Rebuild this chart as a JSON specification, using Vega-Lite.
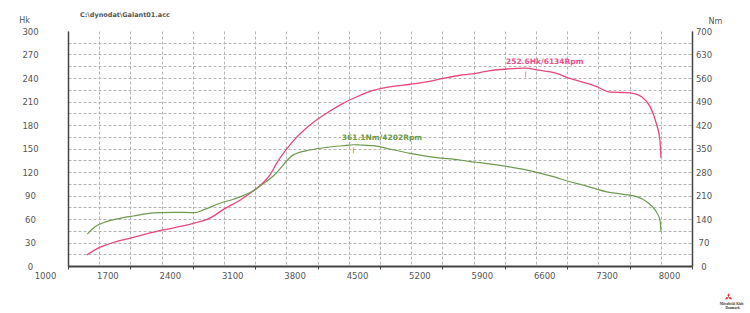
{
  "$schema": "https://vega.github.io/schema/vega-lite/v6.json",
  "width": 624,
  "height": 235,
  "autosize": {"type": "none"},
  "padding": {"left": 68, "top": 31, "right": 58, "bottom": 47},
  "background": "white",
  "title": {"text": "C:\\dynodat\\Galant01.acc", "anchor": "start", "frame": "group", "dx": 12, "dy": 8, "offset": 0, "baseline": "bottom", "fontSize": 6.5, "font": "DejaVu Sans", "fontWeight": "bold", "color": "#555"},
  "config": {"view": {"stroke": null}},
  "datasets": {
    "power": [{"rpm":1210,"hk":14},{"rpm":1360,"hk":24},{"rpm":1510,"hk":30},{"rpm":1700,"hk":35.5},{"rpm":1880,"hk":41},{"rpm":2070,"hk":46},{"rpm":2260,"hk":50.5},{"rpm":2410,"hk":54.5},{"rpm":2560,"hk":59.5},{"rpm":2650,"hk":65},{"rpm":2740,"hk":72},{"rpm":2930,"hk":84},{"rpm":3080,"hk":96},{"rpm":3160,"hk":103},{"rpm":3270,"hk":117},{"rpm":3340,"hk":131},{"rpm":3530,"hk":160},{"rpm":3715,"hk":180},{"rpm":3900,"hk":195},{"rpm":4090,"hk":208},{"rpm":4280,"hk":218},{"rpm":4390,"hk":223},{"rpm":4575,"hk":228},{"rpm":4840,"hk":232},{"rpm":5025,"hk":235},{"rpm":5210,"hk":239.5},{"rpm":5400,"hk":243.5},{"rpm":5510,"hk":245},{"rpm":5620,"hk":247},{"rpm":5735,"hk":249.4},{"rpm":5920,"hk":251.5},{"rpm":6134,"hk":252.6},{"rpm":6260,"hk":250.5},{"rpm":6480,"hk":246},{"rpm":6630,"hk":239.5},{"rpm":6780,"hk":234.5},{"rpm":6930,"hk":229},{"rpm":7080,"hk":222},{"rpm":7230,"hk":221.5},{"rpm":7340,"hk":220.5},{"rpm":7435,"hk":216},{"rpm":7530,"hk":203.5},{"rpm":7605,"hk":180},{"rpm":7640,"hk":161},{"rpm":7652,"hk":138}],
    "torque": [{"rpm":1217,"nm":95},{"rpm":1303,"nm":117},{"rpm":1434,"nm":132},{"rpm":1583,"nm":142},{"rpm":1733,"nm":149},{"rpm":1957,"nm":158},{"rpm":2181,"nm":160},{"rpm":2424,"nm":159},{"rpm":2518,"nm":167},{"rpm":2705,"nm":187},{"rpm":2855,"nm":199},{"rpm":3079,"nm":224},{"rpm":3154,"nm":238},{"rpm":3303,"nm":268},{"rpm":3528,"nm":331},{"rpm":3715,"nm":345.5},{"rpm":3902,"nm":353.5},{"rpm":4163,"nm":360},{"rpm":4202,"nm":361.1},{"rpm":4276,"nm":360.5},{"rpm":4444,"nm":358},{"rpm":4575,"nm":350.5},{"rpm":4837,"nm":335.6},{"rpm":5136,"nm":322.6},{"rpm":5398,"nm":315.8},{"rpm":5510,"nm":310.8},{"rpm":5622,"nm":307.8},{"rpm":5884,"nm":298},{"rpm":6258,"nm":279},{"rpm":6445,"nm":266},{"rpm":6632,"nm":251},{"rpm":6819,"nm":238},{"rpm":7043,"nm":221},{"rpm":7230,"nm":213.5},{"rpm":7380,"nm":206.5},{"rpm":7492,"nm":191.5},{"rpm":7585,"nm":167},{"rpm":7641,"nm":137},{"rpm":7652,"nm":102}],
    "peakP": [{"rpm":6134,"hk":252.6,"label":"252.6Hk/6134Rpm"}],
    "peakT": [{"rpm":4202,"nm":361.1,"label":"361.1Nm/4202Rpm"}],
    "logo": [{"rpm":8410,"hk":-40}],
    "logoText": [{"rpm":8445,"hk":-49,"text":"Mitsubishi Klub"},{"rpm":8455,"hk":-53,"text":"Danmark"}]
  },
  "encoding": {
    "x": {
      "field": "rpm", "type": "quantitative",
      "scale": {"domain": [1000, 8000], "nice": false, "zero": false},
      "axis": {
        "values": [1000,1350,1700,2050,2400,2750,3100,3450,3800,4150,4500,4850,5200,5550,5900,6250,6600,6950,7300,7650,8000],
        "format": "d",
        "labelExpr": "(datum.value - 1000) % 700 === 0 ? datum.label : ''",
        "grid": true, "gridColor": "#b4b4b4", "gridDash": [3, 2], "gridWidth": 1,
        "domainColor": "#444444", "domainWidth": 2,
        "tickSize": 3, "tickColor": "#444444",
        "tickOpacity": {"condition": {"test": "(datum.value - 1000) % 700 === 0", "value": 1}, "value": 0},
        "labelOffset": -23, "labelPadding": 2,
        "labelFont": "DejaVu Sans", "labelFontSize": 8.5, "labelColor": "#555555",
        "labelFlush": false, "labelOverlap": false,
        "title": null
      }
    }
  },
  "layer": [
    {
      "encoding": {
        "y": {
          "field": "hk", "type": "quantitative",
          "scale": {"domain": [0, 300], "nice": false, "zero": false},
          "axis": {
            "orient": "left",
            "values": [0,15,30,45,60,75,90,105,120,135,150,165,180,195,210,225,240,255,270,285,300],
            "labelExpr": "datum.value % 30 === 0 ? datum.label : ''",
            "grid": true, "gridColor": "#b4b4b4", "gridDash": [3, 2], "gridWidth": 1,
            "gridOpacity": {"condition": {"test": "datum.value > 0 && datum.value < 300", "value": 1}, "value": 0},
            "ticks": false, "tickSize": 0,
            "labelPadding": 38, "labelAlign": "center",
            "labelFont": "DejaVu Sans", "labelFontSize": 8.5, "labelColor": "#555555",
            "labelFlush": false, "labelOverlap": false,
            "domainColor": "#444444", "domainWidth": 1.5,
            "title": "Hk", "titleAngle": 0, "titleX": -44, "titleY": -10.5,
            "titleAlign": "center", "titleBaseline": "middle",
            "titleFont": "DejaVu Sans", "titleFontSize": 8, "titleFontWeight": "normal", "titleColor": "#555555"
          }
        }
      },
      "layer": [
        {"data": {"name": "power"}, "mark": {"type": "line", "color": "#e8467e", "strokeWidth": 1.3, "interpolate": "monotone"}},
        {"data": {"name": "peakP"}, "mark": {"type": "text", "align": "left", "baseline": "middle", "dx": -19.7, "dy": -6.3, "font": "DejaVu Sans", "fontSize": 7.5, "fontWeight": "bold", "color": "#e8508a"}, "encoding": {"text": {"field": "label"}}},
        {"data": {"name": "peakP"}, "mark": {"type": "text", "text": "|", "align": "center", "baseline": "middle", "dy": 6, "font": "DejaVu Sans", "fontSize": 6, "fontWeight": "bold", "color": "#e8508a"}},
        {"data": {"name": "logo"}, "mark": {"type": "point", "shape": "M0,0L0.29,-0.5L0,-1L-0.29,-0.5ZM0,0L0.58,0L0.87,0.5L0.29,0.5ZM0,0L-0.58,0L-0.87,0.5L-0.29,0.5Z", "filled": true, "size": 64, "color": "#e0302e", "opacity": 1}},
        {"data": {"name": "logoText"}, "mark": {"type": "text", "align": "center", "baseline": "middle", "font": "Liberation Serif", "fontSize": 3.4, "fontWeight": "bold", "color": "#333333"}, "encoding": {"text": {"field": "text"}}}
      ]
    },
    {
      "encoding": {
        "y": {
          "field": "nm", "type": "quantitative",
          "scale": {"domain": [0, 700], "nice": false, "zero": false},
          "axis": {
            "orient": "right",
            "values": [0,70,140,210,280,350,420,490,560,630,700],
            "grid": false,
            "ticks": false, "tickSize": 0,
            "labelPadding": 11.5, "labelAlign": "center",
            "labelFont": "DejaVu Sans", "labelFontSize": 8.5, "labelColor": "#555555",
            "labelFlush": false, "labelOverlap": false,
            "domainColor": "#444444", "domainWidth": 1.5,
            "title": "Nm", "titleAngle": 0, "titleX": 23, "titleY": -9.5,
            "titleAlign": "center", "titleBaseline": "middle",
            "titleFont": "DejaVu Sans", "titleFontSize": 8, "titleFontWeight": "normal", "titleColor": "#555555"
          }
        }
      },
      "layer": [
        {"data": {"name": "torque"}, "mark": {"type": "line", "color": "#6e9a50", "strokeWidth": 1.2, "interpolate": "monotone"}},
        {"data": {"name": "peakT"}, "mark": {"type": "text", "align": "left", "baseline": "middle", "dx": -11.7, "dy": -7, "font": "DejaVu Sans", "fontSize": 7.5, "fontWeight": "bold", "color": "#6b9a47"}, "encoding": {"text": {"field": "label"}}},
        {"data": {"name": "peakT"}, "mark": {"type": "text", "text": "|", "align": "center", "baseline": "middle", "dy": 5, "font": "DejaVu Sans", "fontSize": 6, "fontWeight": "bold", "color": "#6b9a47"}}
      ]
    }
  ],
  "resolve": {"scale": {"y": "independent"}}
}
